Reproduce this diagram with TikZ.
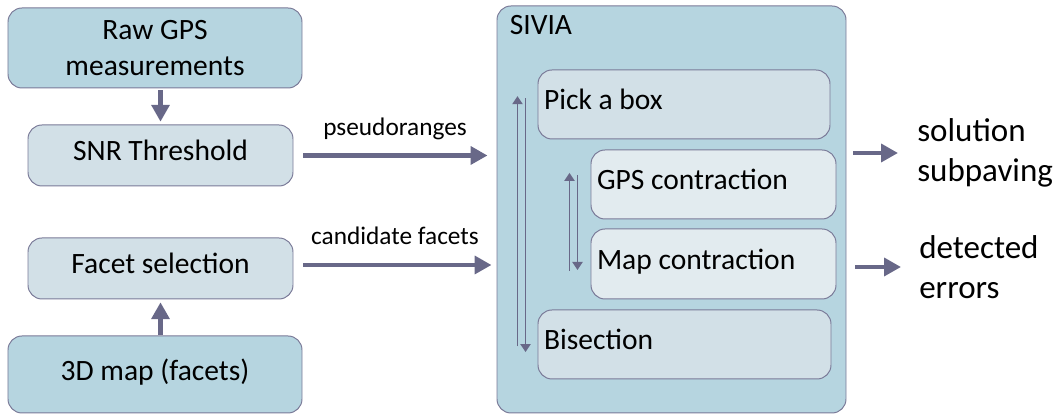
\documentclass[tikz,border=0pt]{standalone}
\usepackage{fontspec}
\setmainfont{Carlito}
\usetikzlibrary{arrows.meta,positioning,calc}
\definecolor{outercolor}{RGB}{182,213,224}
\definecolor{innercolor}{RGB}{210,224,231}
\definecolor{palecolor}{RGB}{226,235,239}
\definecolor{edgecolor}{RGB}{122,122,152}
\definecolor{flowcolor}{RGB}{104,104,136}

\begin{document}
\begin{tikzpicture}[
  block/.style={
    draw=edgecolor,
    line width=0.7pt,
    rounded corners=0.35cm,
    fill=#1,
    align=center,
    font=\fontsize{21}{26}\selectfont
  },
  stage/.style={
    draw=edgecolor,
    line width=0.7pt,
    rounded corners=0.35cm,
    fill=#1,
    align=flush left,
    inner xsep=0.15cm,
    text depth=0.25cm,
    font=\fontsize{21}{26}\selectfont
  },
  flow/.style={-{Triangle[length=0.42cm,width=0.44cm]}, line width=3pt, draw=flowcolor},
  iter/.style={-{Triangle[length=0.2cm,width=0.25cm]}, line width=1.4pt, draw=flowcolor},
  tag/.style={inner sep=0pt, text depth=0pt, font=\fontsize{18}{22}\selectfont},
  result/.style={inner sep=0pt, anchor=west, align=left, font=\fontsize{23.5}{28}\selectfont}
]
\useasboundingbox (0,0) rectangle (26.4,10.375);

% -------- Inputs --------
\node[block=outercolor, minimum width=7.35cm, minimum height=2.0cm] (raw) at (3.875, 9.175)
{Raw GPS\\measurements};

\node[block=innercolor, minimum width=6.625cm, minimum height=1.525cm, text depth=0.25cm] (snr) at (4.0125, 6.4875)
{SNR Threshold};

\node[block=innercolor, minimum width=6.625cm, minimum height=1.525cm, text depth=0.25cm] (facet) at (4.0125, 3.6625)
{Facet selection};

\node[block=outercolor, minimum width=7.35cm, minimum height=1.925cm, text depth=0.25cm] (map3d) at (3.875, 1.0125)
{3D map (facets)};

\draw[flow, shorten <=0.05cm, shorten >=0.07cm] (raw.south -| snr.north) -- (snr.north);
\draw[flow, shorten <=0.02cm, shorten >=0.07cm] (map3d.north -| facet.south) -- (facet.south);

% -------- SIVIA --------
\node[block=outercolor, minimum width=8.725cm, minimum height=10.175cm] (sivia) at (16.7875, 5.1375) {};
\node[anchor=north west, inner sep=0pt, font=\fontsize{21}{26}\selectfont] (siviatitle)
  at ([xshift=0.325cm, yshift=-0.25cm]sivia.north west) {SIVIA};

\node[stage=innercolor, text width=7.0cm, minimum height=1.725cm] (pick) at (17.1, 7.7625)
{Pick a box};

\node[stage=palecolor, text width=5.825cm, minimum height=1.725cm] (gps) at (17.8375, 5.7625)
{GPS contraction};

\node[stage=palecolor, text width=5.825cm, minimum height=1.75cm] (mapc) at (17.8375, 3.775)
{Map contraction};

\node[stage=innercolor, text width=7.025cm, minimum height=1.725cm] (bis) at (17.1125, 1.7625)
{Bisection};

% loops
\draw[iter] ([xshift=-0.5cm, yshift=-0.05cm]bis.west) -- ([xshift=-0.5cm, yshift=0.21cm]pick.west);
\draw[iter] ([xshift=-0.3cm, yshift=0.16cm]pick.west) -- ([xshift=-0.3cm, yshift=-0.19cm]bis.west);
\draw[iter] ([xshift=-0.525cm, yshift=-0.175cm]mapc.west) -- ([xshift=-0.525cm, yshift=0.29cm]gps.west);
\draw[iter] ([xshift=-0.325cm, yshift=0.24cm]gps.west) -- ([xshift=-0.325cm, yshift=-0.15cm]mapc.west);

% -------- Into SIVIA --------
\draw[flow, shorten <=0.25cm, shorten >=0.225cm] (snr.east) -- (snr.east -| sivia.west)
  node[tag, midway, above=0.45cm] (pseudo) {pseudoranges};
\draw[flow, shorten <=0.25cm, shorten >=0.125cm] ([yshift=0.0875cm]facet.east) -- ([yshift=0.0875cm]facet.east -| sivia.west)
  node[tag, midway, above=0.45cm] (cand) {candidate facets};

% -------- Outputs --------
\node[result] (sol) at (22.925, 6.55) {solution\\subpaving};
\node[result] (err) at (22.975, 3.7) {detected\\errors};

\draw[flow, shorten <=0.175cm, shorten >=0.475cm] (sol.west -| sivia.east) -- (sol.west);
\draw[flow, shorten <=0.225cm, shorten >=0.45cm] (err.west -| sivia.east) -- (err.west);

\end{tikzpicture}
\end{document}
